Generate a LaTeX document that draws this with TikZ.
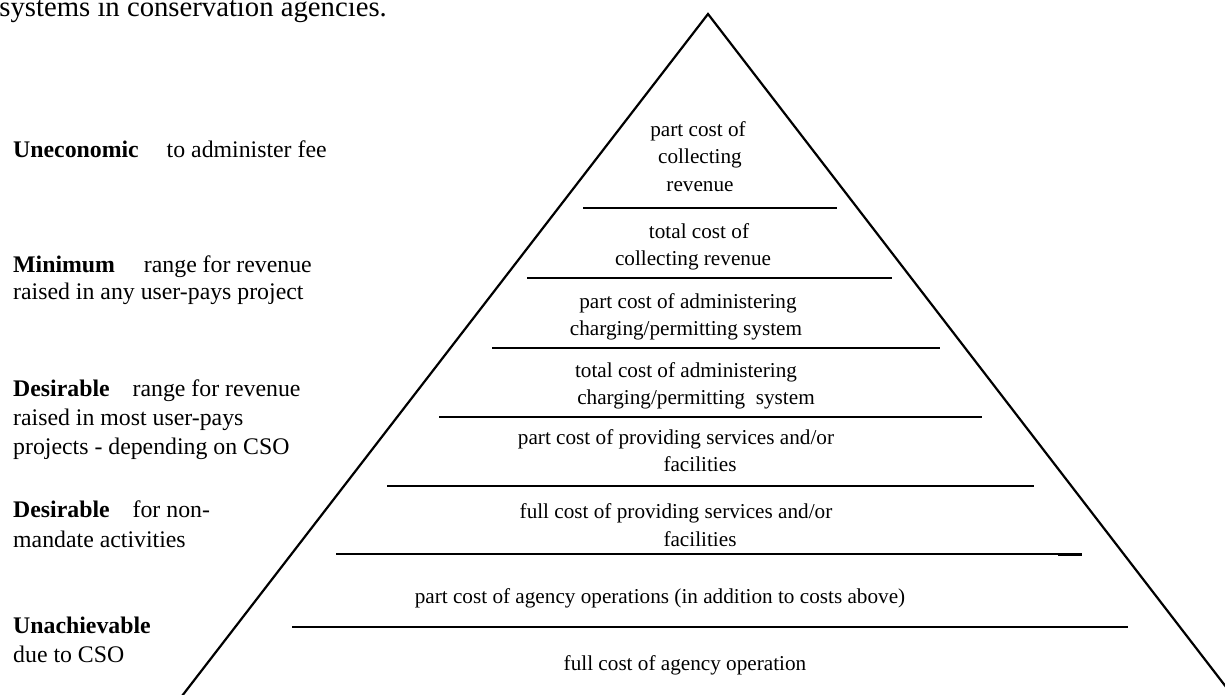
\documentclass[tikz,border=0pt]{standalone}
\usepackage{fontspec}
\setmainfont{Liberation Serif}
\begin{document}
\begin{tikzpicture}[x=1pt,y=-1pt,
  pyr/.style={inner sep=0pt,anchor=base,font=\fontsize{21.2}{26.5}\selectfont},
  lbl/.style={inner sep=0pt,anchor=base west,font=\fontsize{23.8}{29}\selectfont},
  side/.style={line width=2.2pt},
  tier/.style={line width=2.6pt}]
\useasboundingbox (0,0) rectangle (1225,695);
\clip (0,0) rectangle (1225,695);
% heading fragment
\node[inner sep=0pt,anchor=base east,font=\fontsize{28.7}{34}\selectfont] (head) at (387,17) {systems in conservation agencies.};
% triangle
\coordinate (apex) at (708,14);
\coordinate (bl) at (182,696);
\coordinate (br) at (1233,696);
\draw[side] (bl) -- (apex) -- (br);
% tiers
\coordinate (a1) at (583,208);  \coordinate (b1) at (837,208);
\coordinate (a2) at (527,278);  \coordinate (b2) at (892,278);
\coordinate (a3) at (492,348);  \coordinate (b3) at (940,348);
\coordinate (a4) at (439,417);  \coordinate (b4) at (982,417);
\coordinate (a5) at (387,486);  \coordinate (b5) at (1034,486);
\coordinate (a6) at (336,554);  \coordinate (b6) at (1058,554);
\coordinate (c6) at (1058,554.4); \coordinate (d6) at (1082,554.4);
\coordinate (a7) at (292,627);  \coordinate (b7) at (1128,627);
\foreach \i in {1,...,7} \draw[tier] (a\i) -- (b\i);
\draw[line width=3pt] (c6) -- (d6);
% pyramid texts
\node[pyr] (t1a) at (698,137) {part cost of};
\node[pyr] (t1b) at (700,164) {collecting};
\node[pyr] (t1c) at (700,191) {revenue};
\node[pyr] (t2a) at (699,238) {total cost of};
\node[pyr] (t2b) at (693,265) {collecting revenue};
\node[pyr] (t3a) at (688,308) {part cost of administering};
\node[pyr] (t3b) at (686,335) {charging/permitting system};
\node[pyr] (t4a) at (686,377) {total cost of administering};
\node[pyr] (t4b) at (696,404) {charging/permitting\ \ system};
\node[pyr] (t5a) at (676,444) {part cost of providing services and/or};
\node[pyr] (t5b) at (700,471) {facilities};
\node[pyr] (t6a) at (676,518) {full cost of providing services and/or};
\node[pyr] (t6b) at (700,546) {facilities};
\node[pyr] (t7) at (660,603) {part cost of agency operations (in addition to costs above)};
\node[pyr] (t8) at (685,670) {full cost of agency operation};
% left labels
\node[lbl] (u1) at (13,158) {\textbf{Uneconomic}\hspace{22pt} to administer fee};
\node[lbl] (m1) at (13,272) {\textbf{Minimum}\hspace{23pt} range for revenue};
\node[lbl] (m2) at (13,299) {raised in any user-pays project};
\node[lbl] (d1) at (13,396) {\textbf{Desirable}\hspace{17pt} range for revenue};
\node[lbl] (d2) at (13,425) {raised in most user-pays};
\node[lbl] (d3) at (13,454) {projects - depending on CSO};
\node[lbl] (e1) at (13,517) {\textbf{Desirable}\hspace{17pt} for non-};
\node[lbl] (e2) at (13,547) {mandate activities};
\node[lbl] (n1) at (13,633) {\textbf{Unachievable}};
\node[lbl] (n2) at (13,662) {due to CSO};
\end{tikzpicture}
\end{document}
